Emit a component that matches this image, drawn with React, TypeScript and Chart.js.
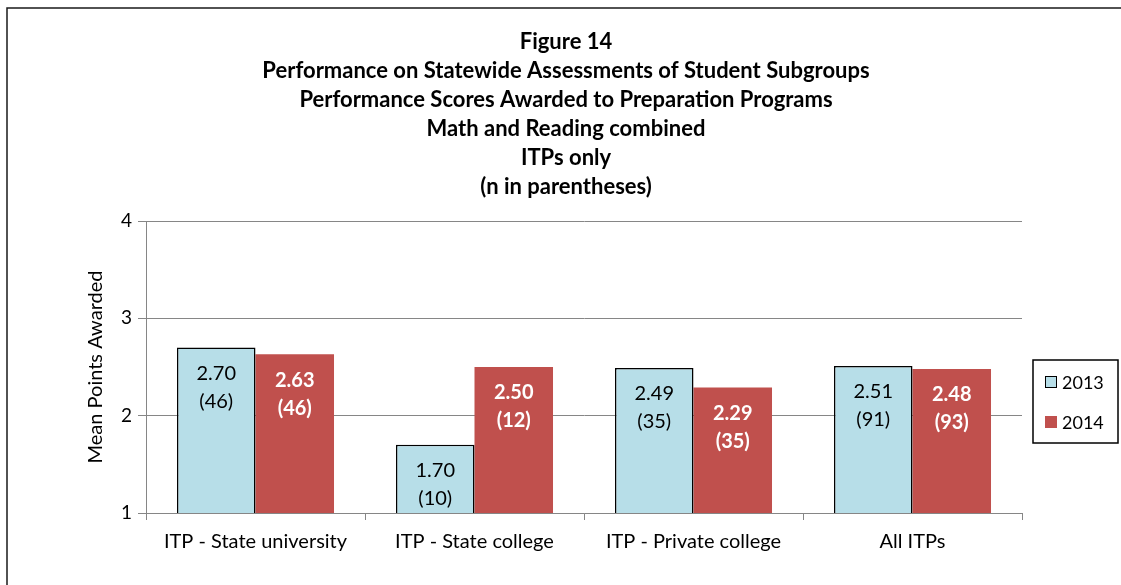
import React, { useEffect, useRef } from 'react';
import { Chart, registerables } from 'chart.js';

Chart.register(...registerables);

const categories = ['ITP - State university', 'ITP - State college', 'ITP - Private college', 'All ITPs'];
const seriesNames = ['2013', '2014'];
const values2013 = [2.7, 1.7, 2.49, 2.51];
const values2014 = [2.63, 2.5, 2.29, 2.48];
const n2013 = [46, 10, 35, 91];
const n2014 = [46, 12, 35, 93];
const titleLines = [
  'Figure 14',
  'Performance on Statewide Assessments of Student Subgroups',
  'Performance Scores Awarded to Preparation Programs',
  'Math and Reading combined',
  'ITPs only',
  '(n in parentheses)',
];
const yTickValues = [1, 2, 3, 4];
const yAxisTitle = 'Mean Points Awarded';

const FONT = 'Lato, "Noto Sans", sans-serif';
const COLORS = ['#B7DEE8', '#C0504D'];
const GRID = '#868686';

const framePlugin = {
  id: 'frame',
  beforeDraw(chart: any) {
    const { ctx, width, height } = chart;
    ctx.save();
    ctx.fillStyle = '#ffffff';
    ctx.fillRect(0, 0, width, height);
    ctx.strokeStyle = '#1a1a1a';
    ctx.lineWidth = 1.5;
    ctx.beginPath();
    ctx.moveTo(7, height);
    ctx.lineTo(7, 8);
    ctx.lineTo(width, 8);
    ctx.stroke();
    ctx.restore();
  },
};

const titlePlugin = {
  id: 'multiTitle',
  afterDraw(chart: any) {
    const { ctx } = chart;
    ctx.save();
    ctx.fillStyle = '#000';
    ctx.font = `bold 22px ${FONT}`;
    ctx.textAlign = 'center';
    ctx.textBaseline = 'middle';
    titleLines.forEach((line, i) => {
      ctx.fillText(line, 566, 42 + i * 29);
    });
    ctx.restore();
  },
};

const legendPlugin = {
  id: 'boxLegend',
  afterDraw(chart: any) {
    const { ctx } = chart;
    ctx.save();
    ctx.strokeStyle = '#000';
    ctx.lineWidth = 1.5;
    ctx.strokeRect(1033, 360, 85, 83);
    ctx.font = `18px ${FONT}`;
    ctx.textAlign = 'left';
    ctx.textBaseline = 'middle';
    chart.data.datasets.forEach((ds: any, i: number) => {
      const cy = 382 + i * 40;
      ctx.fillStyle = ds.backgroundColor;
      ctx.fillRect(1045, cy - 6, 12, 12);
      if (ds.borderWidth) {
        ctx.strokeStyle = '#000';
        ctx.lineWidth = 1;
        ctx.strokeRect(1045.5, cy - 5.5, 11, 11);
      }
      ctx.fillStyle = '#000';
      ctx.fillText(ds.label, 1062, cy + 1);
    });
    ctx.restore();
  },
};

const labelsPlugin = {
  id: 'barLabels',
  afterDatasetsDraw(chart: any) {
    const { ctx } = chart;
    const counts = [n2013, n2014];
    ctx.save();
    ctx.textAlign = 'center';
    ctx.textBaseline = 'middle';
    chart.data.datasets.forEach((ds: any, di: number) => {
      const meta = chart.getDatasetMeta(di);
      ctx.fillStyle = di === 0 ? '#000' : '#fff';
      ctx.font = `${di === 0 ? '' : 'bold '}20px ${FONT}`;
      meta.data.forEach((bar: any, i: number) => {
        const v = ds.data[i] as number;
        ctx.fillText(v.toFixed(2), bar.x, bar.y + 26);
        ctx.fillText(`(${counts[di][i]})`, bar.x, bar.y + 54);
      });
    });
    ctx.restore();
  },
};

export default function App() {
  const ref = useRef<HTMLCanvasElement>(null);
  useEffect(() => {
    if (!ref.current) return;
    const chart = new Chart(ref.current, {
      type: 'bar',
      data: {
        labels: categories,
        datasets: [
          {
            label: seriesNames[0],
            data: values2013,
            backgroundColor: COLORS[0],
            borderColor: '#000',
            borderWidth: 1.5,
            categoryPercentage: 0.717,
            barPercentage: 1,
          },
          {
            label: seriesNames[1],
            data: values2014,
            backgroundColor: COLORS[1],
            borderWidth: 0,
            categoryPercentage: 0.717,
            barPercentage: 1,
          },
        ],
      },
      options: {
        animation: false,
        responsive: false,
        layout: { padding: { left: 84, right: 99, top: 221, bottom: 12 } },
        plugins: {
          legend: { display: false },
          title: { display: false },
          tooltip: { enabled: false },
        },
        scales: {
          x: {
            type: 'category',
            offset: true,
            grid: { offset: true, drawOnChartArea: false, drawTicks: true, tickLength: 7, color: GRID },
            border: { color: GRID, width: 1 },
            ticks: { color: '#000', font: { family: FONT, size: 20 }, padding: 10 },
            afterFit: (s: any) => {
              s.height = 60;
            },
          },
          y: {
            min: 1,
            max: 4,
            afterBuildTicks: (s: any) => {
              s.ticks = yTickValues.map((v) => ({ value: v }));
            },
            grid: { color: GRID, tickLength: 8 },
            border: { color: GRID, width: 1 },
            ticks: { color: '#000', font: { family: FONT, size: 19 }, padding: 6 },
            title: {
              display: true,
              text: yAxisTitle,
              color: '#000',
              font: { family: FONT, size: 20 },
              padding: { top: 0, bottom: 0 },
            },
            afterFit: (s: any) => {
              s.width = 62;
            },
          },
        },
      },
      plugins: [framePlugin, labelsPlugin, titlePlugin, legendPlugin],
    });
    return () => chart.destroy();
  }, []);
  return (
    <div style={{ position: 'absolute', left: 0, top: 0, width: 1121, height: 585 }}>
      <canvas ref={ref} width={1121} height={585} style={{ display: 'block' }} />
    </div>
  );
}
